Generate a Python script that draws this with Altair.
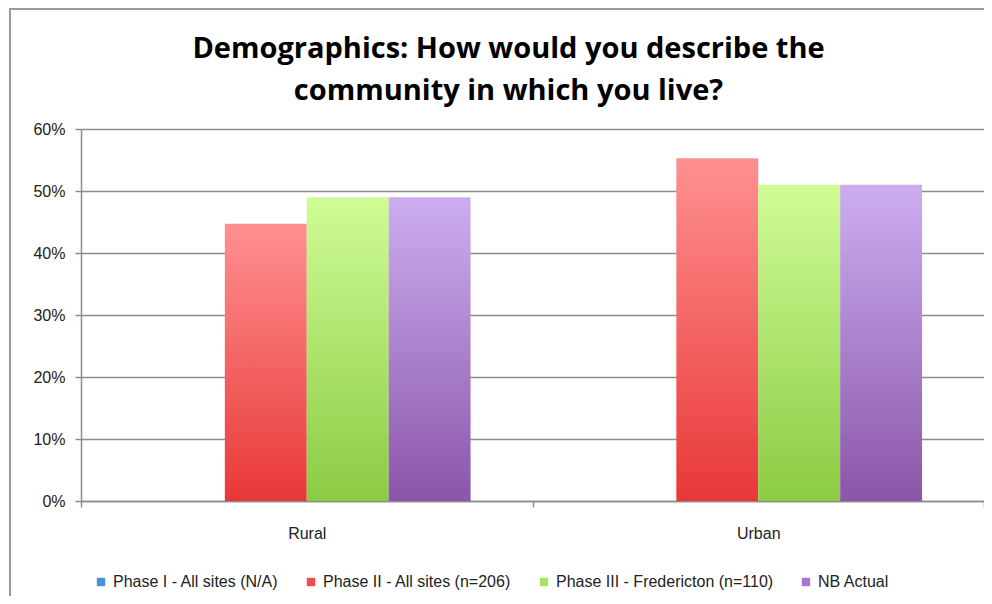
import altair as alt
import pandas as pd

categories = ["Rural", "Urban"]
series = ["Phase I - All sites (N/A)", "Phase II - All sites (n=206)",
          "Phase III - Fredericton (n=110)", "NB Actual"]
phase1 = [0.0, 0.0]
phase2 = [0.447, 0.553]
phase3 = [0.49, 0.51]
nb_actual = [0.49, 0.51]

legend_colors = ["#4a8fe0", "#f04a4a", "#a8e060", "#a878cc"]
gradients = [
    ("#8ab8f0", "#3a78c8"),
    ("#ff9090", "#e83838"),
    ("#d0fc96", "#8ccb44"),
    ("#ccaef0", "#8a56a8"),
]

rows = []
for s, vals in zip(series, [phase1, phase2, phase3, nb_actual]):
    for c, v in zip(categories, vals):
        rows.append({"category": c, "series": s, "value": v})
df = pd.DataFrame(rows)

FONT = "Liberation Sans, Arial"

x = alt.X("category:N", title=None, sort=categories,
          scale=alt.Scale(paddingInner=0, paddingOuter=0),
          axis=alt.Axis(tickBand="extent", labelAngle=0, labelFontSize=16,
                        labelFont=FONT, labelColor="#222", labelPadding=18,
                        domainColor="#8c8c8c", tickColor="#8c8c8c",
                        domainWidth=1.5, tickWidth=1.5, tickSize=6))
xo = alt.XOffset("series:N", sort=series,
                 scale=alt.Scale(domain=series, paddingInner=0, paddingOuter=0.756))
y = alt.Y("value:Q", title=None,
          scale=alt.Scale(domain=[0, 0.6], nice=False),
          axis=alt.Axis(format="%", values=[0, 0.1, 0.2, 0.3, 0.4, 0.5, 0.6],
                        labelFontSize=16, labelFont=FONT, labelColor="#222",
                        labelPadding=10, grid=True, gridColor="#8c8c8c",
                        gridWidth=1.5, domainColor="#8c8c8c", domainWidth=1.5,
                        tickColor="#8c8c8c", tickWidth=1.5, tickSize=6))
color = alt.Color("series:N", sort=series,
                  scale=alt.Scale(domain=series, range=legend_colors),
                  legend=alt.Legend(title=None, orient="none", direction="horizontal",
                                    legendX=12, legendY=445,
                                    columns=4, symbolType="square", symbolSize=70,
                                    symbolStrokeWidth=0,
                                    labelFontSize=16, labelFont=FONT, labelColor="#222",
                                    columnPadding=24, symbolOffset=0,
                                    labelLimit=300))

layers = []
for s, (top, bot) in zip(series, gradients):
    grad = alt.Gradient(gradient="linear",
                        stops=[alt.GradientStop(color=top, offset=0),
                               alt.GradientStop(color=bot, offset=1)],
                        x1=0, x2=0, y1=0, y2=1)
    layers.append(
        alt.Chart(df).transform_filter(alt.datum.series == s)
        .mark_bar(fill=grad, strokeWidth=0)
        .encode(x=x, xOffset=xo, y=y, color=color)
    )

frame = alt.Chart(df).mark_rect(fill="transparent", stroke="#999999", strokeWidth=2).encode(
    x=alt.value(-71), x2=alt.value(940), y=alt.value(-120), y2=alt.value(520))

chart = alt.layer(frame, *layers).properties(
    width=903, height=372,
    title=alt.TitleParams(
        text=["Demographics: How would you describe the", "community in which you live?"],
        font="Open Sans", fontSize=29, fontWeight="bold", color="#000",
        anchor="middle", dx=-24, dy=98, offset=0, lineHeight=42),
    autosize=alt.AutoSizeParams(type="none"),
    padding={"left": 73, "top": 121, "right": 0, "bottom": 95},
).configure_view(stroke=None).configure(background="white")

chart.save("out.html", embed_options={"renderer": "svg", "actions": False})
